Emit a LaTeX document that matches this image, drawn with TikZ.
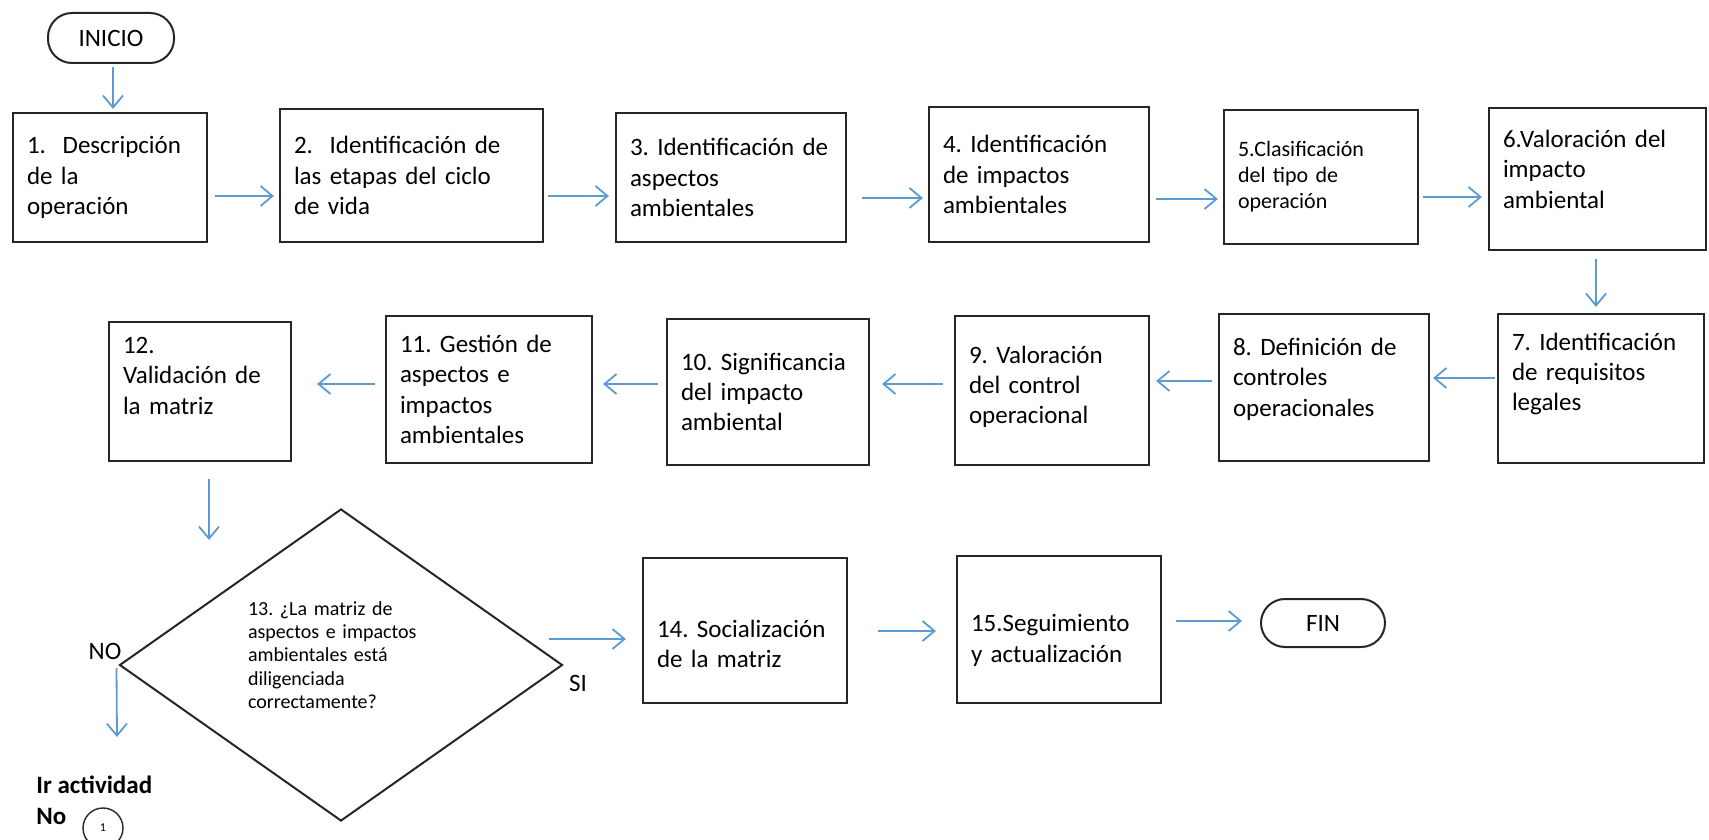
\documentclass[tikz,border=0pt]{standalone}
\usepackage{fontspec}
\setmainfont{Carlito}
\usepackage{xcolor}
\usetikzlibrary{arrows.meta}
\usetikzlibrary{shapes.geometric}
\definecolor{azulflecha}{HTML}{5B9BD5}
\frenchspacing
\hyphenpenalty=10000

\tikzset{
  caja/.style={draw=black!85, line width=1.1pt, rectangle, align=left, inner xsep=7pt, font=\fontsize{12.5}{15.2}\selectfont},
  flujo/.style={draw=azulflecha, line width=0.9pt, -{Straight Barb[length=6pt,width=10pt]}},
  terminal/.style={draw=black!85, line width=1pt, rounded corners=12pt, font=\fontsize{12.5}{15}\selectfont},
  decision/.style={draw=black!85, line width=1pt, diamond, aspect=1.42, align=left, font=\fontsize{10}{11.7}\selectfont},
  rotulo/.style={inner sep=0pt, font=\fontsize{12.5}{15}\selectfont},
}

\begin{document}
\begin{tikzpicture}[x=0.5pt,y=-0.5pt]
\useasboundingbox (0,0) rectangle (1709,840);
% inicio
\node[terminal, minimum width=63pt, minimum height=25pt] (inicio) at (111,38) {INICIO};
% fila 1
\node[caja, text width=83pt, minimum height=64.5pt] (b1) at (110,177.5) {1.\ \ Descripción\\de la\\operación};
\node[caja, text width=117.5pt, minimum height=66.5pt] (b2) at (411.5,175.5) {2.\ \ Identificación de\\las etapas del ciclo\\de vida};
\node[caja, text width=101pt, minimum height=64.5pt] (b3) at (731,177.5) {3. Identificación de\\aspectos\\ambientales};
\node[caja, text width=96pt, minimum height=67.5pt] (b4) at (1039,174.5) {4. Identificación\\de impactos\\ambientales};
\node[caja, text width=83pt, minimum height=67pt, font=\fontsize{11}{13}\selectfont] (b5) at (1321,177) {5.Clasificación\\del tipo de\\operación};
\node[caja, text width=94.5pt, minimum height=71pt, text depth=40.4pt] (b6) at (1597.5,179) {6.Valoración del\\impacto\\ambiental};
% fila 2
\node[caja, text width=89pt, minimum height=74.5pt, text depth=47pt] (b7) at (1601,388.5) {7. Identificación\\de requisitos\\legales};
\node[caja, text width=91pt, minimum height=73.5pt, text depth=40.7pt] (b8) at (1324,387.5) {8. Definición de\\controles\\operacionales};
\node[caja, text width=83pt, minimum height=74.5pt, text depth=36pt] (b9) at (1052,390.5) {9. Valoración\\del control\\operacional};
\node[caja, text width=87pt, minimum height=73pt] (b10) at (768,392) {10. Significancia\\del impacto\\ambiental};
\node[caja, text width=89pt, minimum height=73.5pt] (b11) at (489,389.5) {11. Gestión de\\aspectos e\\impactos\\ambientales};
\node[caja, text width=77pt, minimum height=69.5pt, text depth=46.4pt] (b12) at (200,391.5) {12.\\Validación de\\la matriz};
% fila 3
\node[decision, text width=93pt, text depth=56.8pt, minimum width=221.5pt, minimum height=156pt] (d13) at (341,665) {13. ¿La matriz de\\aspectos e impactos\\ambientales está\\diligenciada\\correctamente?};
\node[caja, text width=88pt, minimum height=72.5pt, text height=22pt] (b14) at (745,630.5) {14. Socialización\\de la matriz};
\node[caja, text width=88pt, minimum height=73.5pt, text height=19.5pt] (b15) at (1059,629.5) {15.Seguimiento\\y actualización};
\node[terminal, minimum width=62pt, minimum height=24pt] (fin) at (1323,623) {FIN};
% rotulos
\node[rotulo] (no) at (105,651) {NO};
\node[rotulo] (si) at (578,683) {SI};
\node[rotulo, anchor=north west, align=left, font=\bfseries\fontsize{12.5}{15.5}\selectfont] (ir) at (36,776) {Ir actividad\\No};
\node[draw=black!85, line width=0.7pt, circle, minimum size=20pt, inner sep=0pt, font=\fontsize{6}{6}\selectfont] (c1) at (103,828) {1};
\coordinate (e13) at (209,540);
\coordinate (eno) at (117,737);
% flechas
\draw[flujo] ([shift={(2,3)}]inicio.south) -- ([shift={(3,-3)}]b1.north);
\draw[flujo] ([shift={(7,18.5)}]b1.east) -- ([shift={(-5,20.5)}]b2.west);
\draw[flujo] ([shift={(4,20.5)}]b2.east) -- ([shift={(-6,18.5)}]b3.west);
\draw[flujo] ([shift={(15,20.5)}]b3.east) -- ([shift={(-5,23.5)}]b4.west);
\draw[flujo] ([shift={(6,24.5)}]b4.east) -- ([shift={(-5,22)}]b5.west);
\draw[flujo] ([shift={(4,20)}]b5.east) -- ([shift={(-6,18)}]b6.west);
\draw[flujo] ([shift={(-1.5,8)}]b6.south) -- ([shift={(-5,-6)}]b7.north);
\draw[flujo] ([shift={(-2,-10.5)}]b7.west) -- ([shift={(3,-9.5)}]b8.east);
\draw[flujo] ([shift={(-6,-6.5)}]b8.west) -- ([shift={(6,-9.5)}]b9.east);
\draw[flujo] ([shift={(-11,-6.5)}]b9.west) -- ([shift={(12,-8)}]b10.east);
\draw[flujo] ([shift={(-8,-8)}]b10.west) -- ([shift={(10,-5.5)}]b11.east);
\draw[flujo] ([shift={(-10,-5.5)}]b11.west) -- ([shift={(25,-7.5)}]b12.east);
\draw[flujo] ([shift={(9,17)}]b12.south) -- (e13);
\draw[flujo] ([shift={(-2,3)}]d13.west) -- (eno);
\draw[flujo] ([shift={(-15,-26)}]d13.east) -- ([shift={(-16,8.5)}]b14.west);
\draw[flujo] ([shift={(30,0.5)}]b14.east) -- ([shift={(-20,1.5)}]b15.west);
\draw[flujo] ([shift={(14,-8.5)}]b15.east) -- ([shift={(-18,-2)}]fin.west);
\end{tikzpicture}
\end{document}
